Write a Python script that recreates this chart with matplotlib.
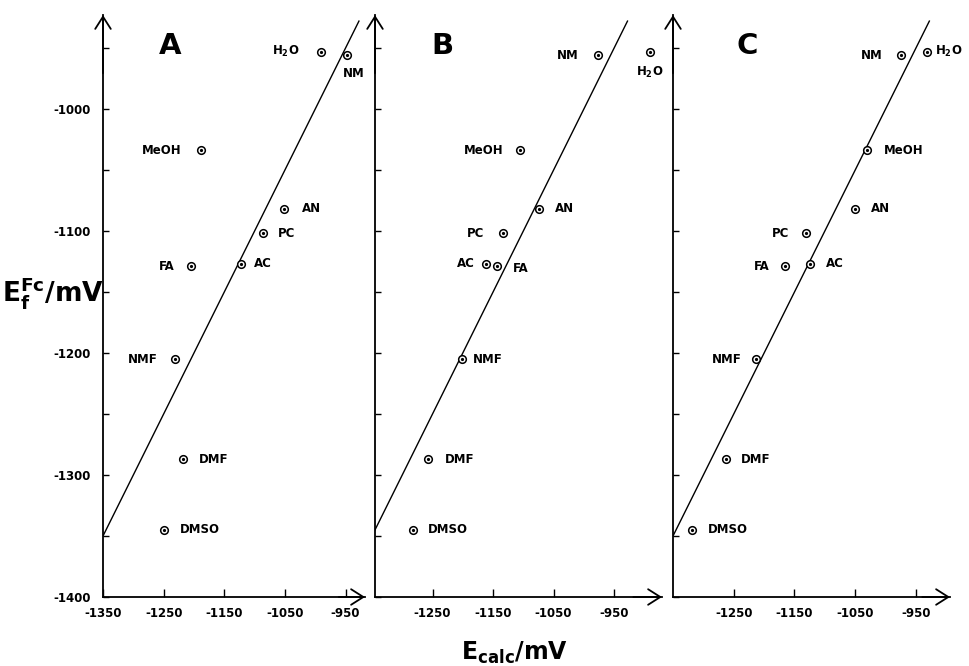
import matplotlib
matplotlib.use('Agg')
import matplotlib.pyplot as plt
from matplotlib.ticker import MultipleLocator

plt.rcParams['font.family'] = ['DejaVu Sans']
plt.rcParams['axes.unicode_minus'] = False
plt.rcParams['mathtext.fontset'] = 'custom'
plt.rcParams['mathtext.rm'] = 'DejaVu Sans:bold'
plt.rcParams['mathtext.bf'] = 'DejaVu Sans:bold'

# measured formal potentials of ferrocene (y), same for all panels
solvents = ['H2O', 'NM', 'MeOH', 'AN', 'PC', 'AC', 'FA', 'NMF', 'DMF', 'DMSO']
e_fc = [-953, -956, -1034, -1082, -1102, -1127, -1129, -1205, -1287, -1345]

# calculated potentials (x) for the three models
e_calc_a = [-991, -948, -1189, -1052, -1086, -1123, -1205, -1231, -1218, -1250]
e_calc_b = [-891, -977, -1105, -1074, -1134, -1161, -1144, -1201, -1257, -1282]
e_calc_c = [-932, -974, -1030, -1050, -1131, -1124, -1165, -1214, -1262, -1318]

# y = x reference line
ideal = [-1350, -928]

panel_names = ['A', 'B', 'C']

# label placement per panel (pixel offsets from the marker, alignment)
label_pos = {
    'A': {'H2O': (-21, 0, 'right'), 'NM': (7, -18, 'center'), 'MeOH': (-19, 0, 'right'),
          'AN': (18, 0, 'left'), 'PC': (15, 0, 'left'), 'AC': (13, 0, 'left'),
          'FA': (-16, 0, 'right'), 'NMF': (-18, 0, 'right'), 'DMF': (16, 0, 'left'),
          'DMSO': (16, 0, 'left')},
    'B': {'H2O': (0, -21, 'center'), 'NM': (-19, 0, 'right'), 'MeOH': (-17, 0, 'right'),
          'AN': (16, 0, 'left'), 'PC': (-19, 0, 'right'), 'AC': (-12, 0, 'right'),
          'FA': (16, -2, 'left'), 'NMF': (11, 0, 'left'), 'DMF': (17, 0, 'left'),
          'DMSO': (15, 0, 'left')},
    'C': {'H2O': (8, 0, 'left'), 'NM': (-19, 0, 'right'), 'MeOH': (16, 0, 'left'),
          'AN': (16, 0, 'left'), 'PC': (-17, 0, 'right'), 'AC': (16, 0, 'left'),
          'FA': (-16, 0, 'right'), 'NMF': (-14, 0, 'right'), 'DMF': (14, 0, 'left'),
          'DMSO': (15, 0, 'left')},
}

W, H = 970, 666
fig = plt.figure(figsize=(W / 100, H / 100), dpi=100)

# axes boxes in pixels: left, right, and x-limits
boxes = [(103, 365, -1350, -918), (375, 662, -1345, -871), (673, 950, -1350, -894)]
bottom_px, top_px = 597, 15

pt = 0.72  # px -> points
for k, (name, xs) in enumerate(zip(panel_names, [e_calc_a, e_calc_b, e_calc_c])):
    left, right, x0, x1 = boxes[k]
    ax = fig.add_axes([left / W, 1 - bottom_px / H, (right - left) / W, (bottom_px - top_px) / H])
    ax.set_xlim(x0, x1)
    ax.set_ylim(-1400, -923)
    for s in ['top', 'right']:
        ax.spines[s].set_visible(False)
    for s in ['left', 'bottom']:
        ax.spines[s].set_linewidth(1.3)

    ax.plot(ideal, ideal, color='black', lw=1.0)
    ax.plot(xs, e_fc, 'o', ms=5.5, mfc='white', mec='black', mew=1.1)
    ax.plot(xs, e_fc, 'o', ms=1.3, color='black')

    for sv, x, y in zip(solvents, xs, e_fc):
        dx, dy, ha = label_pos[name][sv]
        txt = 'H$_\\mathrm{2}$O' if sv == 'H2O' else sv
        ax.annotate(txt, (x, y), xytext=(dx * pt, dy * pt), textcoords='offset points',
                    ha=ha, va='center', fontsize=8.5, fontweight='bold')

    ax.yaxis.set_major_locator(MultipleLocator(100))
    ax.yaxis.set_minor_locator(MultipleLocator(50))
    ax.tick_params(axis='y', which='both', direction='in', length=4, width=1.0, pad=9,
                   labelsize=8.5)
    if k == 0:
        ax.set_xticks([-1350, -1250, -1150, -1050, -950])
        for lab in ax.get_yticklabels():
            lab.set_fontweight('bold')
    else:
        ax.set_xticks([-1250, -1150, -1050, -950])
        ax.tick_params(axis='y', which='both', labelleft=False)
    ax.tick_params(axis='x', direction='in', length=6, width=1.0, pad=7, labelsize=8.5)
    for lab in ax.get_xticklabels():
        lab.set_fontweight('bold')

    # arrow heads on the axes
    arrow = dict(arrowstyle='->,head_length=0.55,head_width=0.35', lw=1.3, color='black',
                 mutation_scale=16, shrinkA=0, shrinkB=0)
    ax.annotate('', xy=(1, 0), xytext=(0.9, 0), xycoords='axes fraction',
                arrowprops=arrow, annotation_clip=False)
    ax.annotate('', xy=(0, 1), xytext=(0, 0.9), xycoords='axes fraction',
                arrowprops=arrow, annotation_clip=False)

    # panel letter
    letter_x = [170, 442, 747][k]
    fig.text(letter_x / W, 1 - 46 / H, name, ha='center', va='center', fontsize=21,
             fontweight='bold')

fig.text(2 / W, 1 - 293 / H, 'E$_\\mathrm{f}^\\mathrm{Fc}$/mV', ha='left', va='center',
         fontsize=19, fontweight='bold')
fig.text(514 / W, 1 - 660 / H, 'E$_\\mathrm{calc}$/mV', ha='center', va='baseline',
         fontsize=17, fontweight='bold')

fig.savefig('out.png', dpi=100)
